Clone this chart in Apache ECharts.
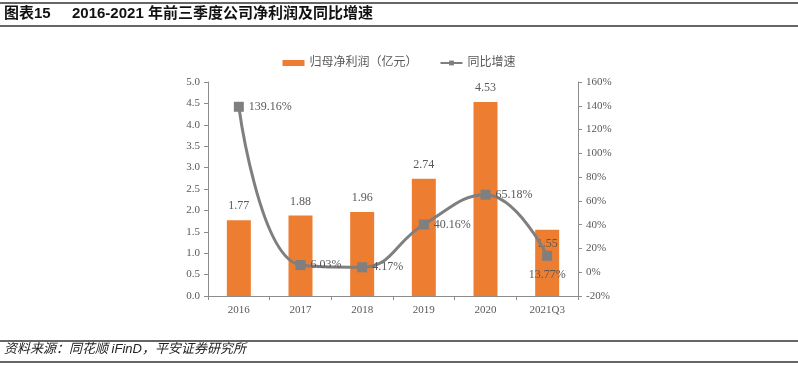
<!DOCTYPE html>
<html>
<head>
<meta charset="utf-8">
<script src="https://cdn.jsdelivr.net/npm/echarts@6/dist/echarts.min.js"></script>
<style>
  html, body { margin: 0; padding: 0; background: #fff; }
  #main { width: 798px; height: 368px; }
</style>
</head>
<body>
<div id="main"></div>
<script>
const years = ['2016', '2017', '2018', '2019', '2020', '2021Q3'];
const profit = [1.77, 1.88, 1.96, 2.74, 4.53, 1.55];
const growth = [139.16, 6.03, 4.17, 40.16, 65.18, 13.77];

const serif = '"Liberation Serif", "DejaVu Serif", serif';
const sans = '"Liberation Sans", "Noto Sans CJK SC", sans-serif';
const axisGray = '#8c8c8c';
const textGray = '#595959';

const chart = echarts.init(document.getElementById('main'));

const option = {
  animation: false,
  backgroundColor: '#fff',
  graphic: [
    // header lines
    { type: 'rect', shape: { x: 0, y: 2, width: 798, height: 2 }, style: { fill: '#666' } },
    { type: 'rect', shape: { x: 0, y: 25, width: 798, height: 2 }, style: { fill: '#666' } },
    {
      type: 'text', left: 4, top: 6,
      style: { text: '图表15', font: 'bold 15px ' + sans, fill: '#111' },
    },
    {
      type: 'text', left: 72, top: 6,
      style: { text: '2016-2021 年前三季度公司净利润及同比增速', font: 'bold 15px ' + sans, fill: '#111' },
    },
    // footer lines
    { type: 'rect', shape: { x: 0, y: 340, width: 798, height: 2 }, style: { fill: '#666' } },
    { type: 'rect', shape: { x: 0, y: 361, width: 798, height: 2 }, style: { fill: '#666' } },
    {
      type: 'text', left: 4, top: 343,
      style: { text: '资料来源：同花顺 iFinD，平安证券研究所', font: 'italic 13px ' + sans, fill: '#222' },
    },
  ],
  legend: {
    top: 52,
    left: 'center',
    itemGap: 22,
    textStyle: { color: textGray, fontSize: 12, fontFamily: sans },
    data: [
      { name: '归母净利润（亿元）', icon: 'rect', itemStyle: { color: '#ED7D31' } },
      { name: '同比增速' },
    ],
    itemWidth: 22,
    itemHeight: 6,
  },
  grid: { left: 208, right: 220, top: 82, bottom: 72 },
  xAxis: {
    type: 'category',
    data: years,
    axisLine: { lineStyle: { color: axisGray } },
    axisTick: { show: true, length: 4, lineStyle: { color: axisGray } },
    axisLabel: { color: textGray, fontFamily: serif, fontSize: 11, margin: 9 },
  },
  yAxis: [
    {
      type: 'value',
      min: 0, max: 5, interval: 0.5,
      axisLine: { show: true, lineStyle: { color: axisGray } },
      axisTick: { show: true, length: 4, lineStyle: { color: axisGray } },
      splitLine: { show: false },
      axisLabel: {
        color: textGray, fontFamily: serif, fontSize: 11, margin: 8,
        formatter: v => v.toFixed(1),
      },
    },
    {
      type: 'value',
      min: -20, max: 160, interval: 20,
      axisLine: { show: true, lineStyle: { color: axisGray } },
      axisTick: { show: true, length: 4, lineStyle: { color: axisGray } },
      splitLine: { show: false },
      axisLabel: {
        color: textGray, fontFamily: serif, fontSize: 11, margin: 8,
        formatter: v => v + '%',
      },
    },
  ],
  series: [
    {
      name: '归母净利润（亿元）',
      type: 'bar',
      data: profit.map((v, i) => ({
        value: v,
        // the last label sits inside the bar, just above the line point
        label: i === 5 ? { position: 'insideTop', distance: 8 } : undefined,
      })),
      barWidth: 24,
      itemStyle: { color: '#ED7D31' },
      label: {
        show: true, position: 'top', distance: 8,
        color: textGray, fontFamily: serif, fontSize: 12,
        formatter: p => p.value.toFixed(2),
      },
    },
    {
      name: '同比增速',
      type: 'line',
      yAxisIndex: 1,
      data: growth.map((v, i) => ({
        value: v,
        label: i === 5 ? { position: 'bottom', distance: 8 } : undefined,
      })),
      smooth: 0.45,
      symbol: 'rect',
      symbolSize: 10,
      lineStyle: { color: '#7F7F7F', width: 3 },
      itemStyle: { color: '#7F7F7F' },
      label: {
        show: true, position: 'right', distance: 5,
        color: textGray, fontFamily: serif, fontSize: 12,
        formatter: p => p.value.toFixed(2) + '%',
      },
      z: 3,
    },
  ],
};

chart.setOption(option);
</script>
</body>
</html>
